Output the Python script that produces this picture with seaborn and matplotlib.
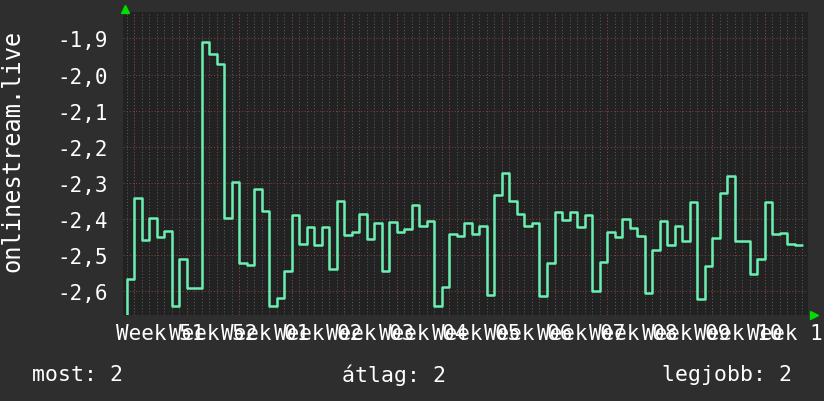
import numpy as np
import pandas as pd
import matplotlib
matplotlib.use("Agg")
import matplotlib.pyplot as plt
import matplotlib.transforms as mtransforms
import seaborn as sns

# ---- data ----
week_labels = ["Week 51", "Week 52", "Week 01", "Week 02", "Week 03", "Week 04",
               "Week 05", "Week 06", "Week 07", "Week 08", "Week 09", "Week 10", "Week 11"]
y_ticks = [-2.6, -2.5, -2.4, -2.3, -2.2, -2.1, -2.0, -1.9]
y_tick_labels = ["-2,6", "-2,5", "-2,4", "-2,3", "-2,2", "-2,1", "-2,0", "-1,9"]
# daily values, first entry is the (clipped) day before the first full day
values = [-2.700,
          -2.566, -2.341, -2.457, -2.398, -2.449, -2.432, -2.640, -2.511, -2.590, -2.592,
          -1.909, -1.943, -1.970, -2.398, -2.297, -2.523, -2.526, -2.318, -2.378, -2.640,
          -2.618, -2.543, -2.388, -2.469, -2.423, -2.472, -2.422, -2.538, -2.351, -2.444,
          -2.436, -2.386, -2.455, -2.411, -2.544, -2.408, -2.436, -2.429, -2.362, -2.419,
          -2.406, -2.640, -2.587, -2.442, -2.447, -2.411, -2.442, -2.419, -2.610, -2.334,
          -2.274, -2.351, -2.386, -2.419, -2.411, -2.612, -2.521, -2.381, -2.403, -2.381,
          -2.422, -2.390, -2.600, -2.520, -2.436, -2.451, -2.401, -2.425, -2.447, -2.605,
          -2.486, -2.405, -2.473, -2.419, -2.462, -2.353, -2.621, -2.530, -2.453, -2.328,
          -2.282, -2.461, -2.461, -2.553, -2.512, -2.353, -2.442, -2.439, -2.470, -2.473]
first_day = -1
first_week_start = 1
summary_labels = ["most: 2", "átlag: 2", "legjobb: 2"]
y_label = "onlinestream.live"

# ---- style ----
BG = "#2e2e2e"
PLOT_BG = "#222222"
LINE = "#6cf0b2"
MAJOR = "#7e4040"
MINOR = "#585858"
ARROW = "#00dd00"
FONT = "DejaVu Sans Mono"

sns.set_theme(style="dark")
plt.rcParams["font.family"] = [FONT, "DejaVu Sans"]

W, H = 824, 402
fig = plt.figure(figsize=(W / 100, H / 100), dpi=100, facecolor=BG)
ax = fig.add_axes([123 / W, 1 - 316 / H, (808 - 123) / W, (316 - 13) / H])
ax.set_facecolor(PLOT_BG)

days = np.arange(len(values)) + first_day
df = pd.DataFrame({"day": np.append(days, days[-1] + 1),
                   "value": values + [values[-1]]})

# grids
day_grid = np.arange(0, days[-1] + 2)
week_starts = first_week_start + 7 * np.arange(len(week_labels))
week_mids = week_starts + 3.5
ax.set_xticks(day_grid, minor=True)
ax.grid(which="minor", axis="x", color=MINOR, linestyle=(0, (1, 2)), linewidth=0.75)
for ws in week_starts:
    ax.axvline(ws, color=MAJOR, linestyle=(0, (1, 2)), linewidth=0.75, zorder=1)
for yt in y_ticks:
    ax.axhline(yt, color=MAJOR, linestyle=(0, (1, 2)), linewidth=0.75, zorder=1)
ax.grid(which="major", visible=False)

sns.lineplot(data=df, x="day", y="value", drawstyle="steps-post", color=LINE,
             linewidth=1.8, ax=ax, zorder=3)

ax.set_xlim(-0.5, 90.78)
ax.set_ylim(-2.6657, -1.827)
ax.set_xticks(week_mids)
ax.set_xticklabels(week_labels)
ax.set_yticks(y_ticks)
ax.set_yticklabels(y_tick_labels)
ax.tick_params(axis="x", which="both", length=0, pad=6, labelsize=15, colors="white")
ax.tick_params(axis="y", which="both", length=0, pad=11, labelsize=15, colors="white")
for lab in ax.get_xticklabels():
    lab.set_clip_on(False)
ax.set_xlabel("")
ax.set_ylabel("")
for s in ax.spines.values():
    s.set_visible(False)

# axis arrows
t_up = mtransforms.offset_copy(ax.transAxes, fig=fig, x=2 * 0.72, y=3.5 * 0.72, units="points")
ax.plot([0], [1], marker="^", markersize=6, color=ARROW, transform=t_up, clip_on=False, zorder=5)
t_right = mtransforms.offset_copy(ax.transAxes, fig=fig, x=5.5 * 0.72, y=0, units="points")
ax.plot([1], [0], marker=">", markersize=6, color=ARROW, transform=t_right, clip_on=False, zorder=5)

fig.text(12 / W, 1 - 151 / H, y_label, rotation=90, ha="center", va="center",
         color="white", fontsize=17)
fig.text(32 / W, 1 - 375 / H, summary_labels[0], ha="left", va="center", color="white", fontsize=15.5)
fig.text(393.5 / W, 1 - 375 / H, summary_labels[1], ha="center", va="center", color="white", fontsize=15.5)
fig.text(792 / W, 1 - 375 / H, summary_labels[2], ha="right", va="center", color="white", fontsize=15.5)

fig.savefig("out.png", dpi=100, facecolor=BG)
